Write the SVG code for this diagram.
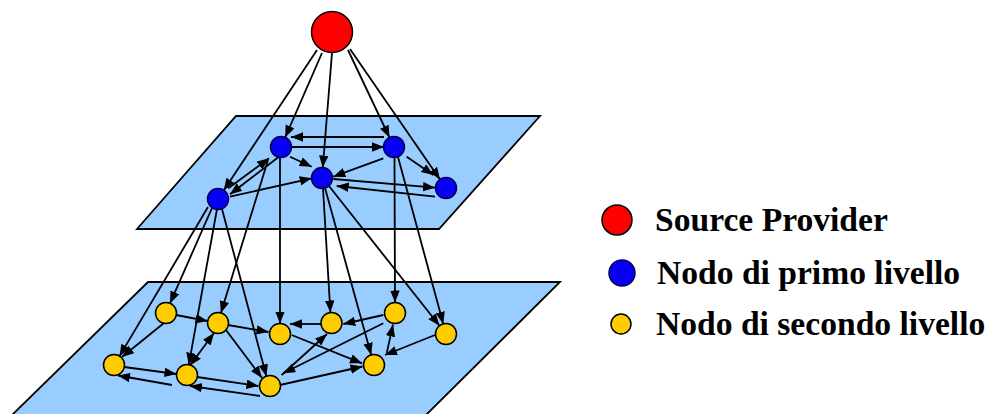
<svg xmlns="http://www.w3.org/2000/svg" width="990" height="414" viewBox="0 0 990 414">
<style>
.plane{fill:#99ccff;stroke:#000;stroke-width:1.8}
.e{stroke:#000;stroke-width:1.8;fill:none;marker-end:url(#ah)}
.d{marker-start:url(#ahs)}
.red{fill:#ff0000;stroke:#000;stroke-width:1.5}
.blue{fill:#0800f4;stroke:#000050;stroke-width:1.5}
.yel{fill:#ffcc00;stroke:#000;stroke-width:1.5}
.lbl{font-family:"Liberation Serif","Times New Roman",serif;font-weight:bold;font-size:33.6px;fill:#000}
</style>
<defs>
<marker id="ah" markerWidth="13" markerHeight="10" refX="12" refY="4.75" orient="auto" markerUnits="userSpaceOnUse"><path d="M0,0 L12,4.75 L0,9.5 z" fill="#000"/></marker>
<marker id="ahs" markerWidth="13" markerHeight="10" refX="12" refY="4.75" orient="auto-start-reverse" markerUnits="userSpaceOnUse"><path d="M0,0 L12,4.75 L0,9.5 z" fill="#000"/></marker>
</defs>
<g id="planes">
<polygon class="plane" points="236,116 540,116 439,229 137,229"/>
<polygon class="plane" points="148,282 560,282 425,416 11,416"/>
</g>
<g id="connectors">
<line class="e" x1="317" y1="50" x2="223.8" y2="190.3"/>
<line class="e" x1="322" y1="53" x2="285.2" y2="137.4"/>
<line class="e" x1="332" y1="53" x2="322.8" y2="167.5"/>
<line class="e" x1="348" y1="50" x2="389.5" y2="137.5"/>
<line class="e" x1="350" y1="49" x2="440" y2="179.4"/>
<line class="e" x1="384" y1="137" x2="291" y2="137"/>
<line class="e" x1="291" y1="147" x2="384" y2="147"/>
<line class="e" x1="290" y1="156.7" x2="311.7" y2="166.7"/>
<line class="e" x1="383.3" y1="158.3" x2="333.3" y2="176.7"/>
<line class="e" x1="406.7" y1="156.7" x2="433.3" y2="175"/>
<line class="e" x1="333.3" y1="179" x2="435" y2="187.7"/>
<line class="e" x1="435" y1="196.7" x2="336.7" y2="186"/>
<line class="e" x1="228.3" y1="188.3" x2="269" y2="158.3"/>
<line class="e" x1="278.3" y1="157.3" x2="230" y2="194.3"/>
<line class="e" x1="230" y1="196.7" x2="311.7" y2="178.3"/>
<line class="e" x1="268" y1="160" x2="220.9" y2="313"/>
<line class="e" x1="280" y1="157" x2="280" y2="323.5"/>
<line class="e" x1="394.5" y1="157" x2="395" y2="302.5"/>
<line class="e" x1="398" y1="157" x2="443.3" y2="323.9"/>
<line class="e" x1="323" y1="188" x2="330.4" y2="312.5"/>
<line class="e" x1="325" y1="188" x2="371.2" y2="354.9"/>
<line class="e" x1="329" y1="186" x2="439.5" y2="325.8"/>
<line class="e" x1="212" y1="208" x2="170" y2="303.4"/>
<line class="e" x1="208" y1="207" x2="119.4" y2="356.4"/>
<line class="e" x1="217" y1="209" x2="188.8" y2="364.7"/>
<line class="e" x1="222" y1="209" x2="266.4" y2="376.3"/>
<line class="e" x1="176" y1="315" x2="207.5" y2="321"/>
<line class="e" x1="164" y1="323" x2="122" y2="357"/>
<line class="e" x1="228" y1="325" x2="268.5" y2="332"/>
<line class="e d" x1="190" y1="365.5" x2="214" y2="333"/>
<line class="e" x1="226" y1="330" x2="262" y2="378"/>
<line class="e" x1="124" y1="367" x2="176.5" y2="374"/>
<line class="e" x1="172" y1="385" x2="118" y2="375.5"/>
<line class="e" x1="197" y1="377" x2="258.5" y2="386"/>
<line class="e" x1="260" y1="396" x2="190" y2="386"/>
<line class="e" x1="321" y1="324" x2="290" y2="324"/>
<line class="e" x1="383.3" y1="315" x2="343.3" y2="324"/>
<line class="e" x1="291.7" y1="335" x2="362" y2="363.3"/>
<line class="e" x1="281.7" y1="375" x2="327" y2="334"/>
<line class="e" x1="383.3" y1="323.3" x2="283.3" y2="373.3"/>
<line class="e" x1="280" y1="385" x2="362.5" y2="366.5"/>
<line class="e" x1="386.7" y1="353.3" x2="393" y2="324.5"/>
<line class="e" x1="435" y1="335" x2="385" y2="355"/>
</g>
<g id="source"><circle class="red" cx="332" cy="32" r="20.5"/></g>
<g id="b1"><circle class="blue" cx="281" cy="147" r="10.5"/></g>
<g id="b2"><circle class="blue" cx="394" cy="147" r="10.5"/></g>
<g id="b3"><circle class="blue" cx="322" cy="178" r="10.5"/></g>
<g id="b4"><circle class="blue" cx="218" cy="199" r="10.5"/></g>
<g id="b5"><circle class="blue" cx="446" cy="188" r="10.5"/></g>
<g id="y1"><circle class="yel" cx="166" cy="313" r="10.5"/></g>
<g id="y2"><circle class="yel" cx="218" cy="323" r="10.5"/></g>
<g id="y3"><circle class="yel" cx="280" cy="334" r="10.5"/></g>
<g id="y4"><circle class="yel" cx="114" cy="365" r="10.5"/></g>
<g id="y5"><circle class="yel" cx="187" cy="375" r="10.5"/></g>
<g id="y6"><circle class="yel" cx="270" cy="386" r="10.5"/></g>
<g id="y7"><circle class="yel" cx="331.5" cy="323" r="10.5"/></g>
<g id="y8"><circle class="yel" cx="395" cy="313" r="10.5"/></g>
<g id="y9"><circle class="yel" cx="446" cy="334" r="10.5"/></g>
<g id="y10"><circle class="yel" cx="374" cy="365" r="10.5"/></g>
<g id="legend-source"><circle class="red" cx="617" cy="220" r="15"/><text class="lbl" x="655" y="231">Source Provider</text></g>
<g id="legend-primo"><circle class="blue" cx="622" cy="273" r="13"/><text class="lbl" x="657" y="284">Nodo di primo livello</text></g>
<g id="legend-secondo"><circle class="yel" cx="621" cy="324" r="10"/><text class="lbl" x="656" y="335">Nodo di secondo livello</text></g>
</svg>
